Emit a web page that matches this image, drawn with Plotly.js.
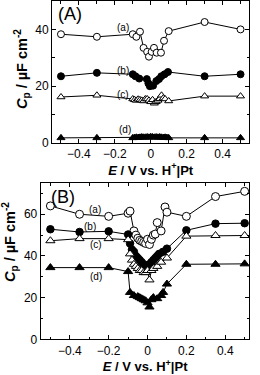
<!DOCTYPE html>
<html><head><meta charset="utf-8">
<script src="https://cdn.plot.ly/plotly-3.0.1.min.js"></script>
<style>html,body{margin:0;padding:0;background:#fff;}#chart{width:260px;height:375px;}</style>
</head><body><div id="chart"></div>
<script>
// Panel A data
const A_a_x = [-0.5,-0.3,-0.1,-0.08,-0.06,-0.04,-0.02,-0.01,0.005,0.018,0.033,0.057,0.074,0.1,0.3,0.5];
const A_a_y = [38.3,37.4,38.3,37.4,39.2,33.5,32.1,30.4,32.1,33.5,31.8,31.8,36.0,39.4,42.6,40.0];
const A_b_x = [-0.5,-0.3,-0.1,-0.085,-0.064,-0.022,-0.013,-0.005,0.013,0.031,0.046,0.059,0.077,0.096,0.3,0.5];
const A_b_y = [23.5,24.7,24.2,23.5,22.7,22.5,21.0,20.0,20.2,21.8,22.5,23.5,24.2,25.0,23.5,24.2];
const A_c_x = [-0.5,-0.3,-0.1,-0.09,-0.08,-0.07,-0.06,-0.05,-0.04,-0.03,-0.02,-0.01,0,0.01,0.02,0.03,0.04,0.05,0.06,0.07,0.08,0.1,0.3,0.5];
const A_c_y = [16.2,16.8,15.5,15.2,15.0,15.4,15.2,15.0,14.8,15.5,15.5,15.0,14.5,15.2,14.0,14.5,15.0,15.6,16.8,15.8,15.5,14.8,16.5,16.5];
const A_d_x = [-0.5,-0.3,-0.1,-0.09,-0.08,-0.07,-0.06,-0.05,-0.04,-0.03,-0.02,-0.01,0,0.01,0.02,0.03,0.04,0.05,0.06,0.07,0.08,0.09,0.1,0.3,0.5];
const A_d_y = [1.8,1.8,1.8,1.9,2.0,1.9,2.0,2.1,2.0,2.0,2.1,2.0,2.2,2.1,2.0,2.1,2.0,2.1,2.0,1.9,2.0,1.9,1.8,1.8,1.8];
// Panel B data
const B_a_x = [-0.5,-0.35,-0.2,-0.1,-0.09,-0.07,-0.06,-0.05,-0.04,-0.03,-0.02,-0.01,0,0.01,0.02,0.03,0.04,0.05,0.07,0.09,0.1,0.2,0.35,0.5];
const B_a_y = [64,60,59,60.5,61.5,52,50,48.5,47.5,47,46.5,46,48,45.5,48,50,50.5,56,52,63.5,61,59,68.5,71];
const B_b_x = [-0.5,-0.35,-0.2,-0.1,-0.09,-0.08,-0.07,-0.06,-0.05,-0.04,-0.03,-0.02,-0.01,0,0.01,0.02,0.03,0.04,0.05,0.06,0.08,0.1,0.2,0.35,0.5];
const B_b_y = [52.8,51.5,51.8,50.3,46,43,42,40,39,38,37,36,35,34,36,37,38,39,40,41,42,43.5,52.3,55.5,55.7];
const B_c_x = [-0.5,-0.35,-0.2,-0.1,-0.09,-0.08,-0.07,-0.06,-0.05,-0.04,-0.03,-0.02,-0.01,0,0.01,0.02,0.03,0.05,0.07,0.1,0.2,0.35,0.5];
const B_c_y = [47.3,48.3,48.3,47.8,41,38,36,35,34,33,33,32,32,33,28.5,33,34,35,37,39,49.5,49.8,49.8];
const B_d_x = [-0.5,-0.35,-0.2,-0.1,-0.09,-0.07,-0.05,-0.04,-0.03,-0.02,-0.01,0,0.01,0.02,0.03,0.05,0.07,0.08,0.1,0.2,0.35,0.5];
const B_d_y = [34.4,34.4,34.4,32.5,22.5,21,20.5,20,19.5,19,18.5,17.5,15.5,19,20,19.5,21,22.5,26.5,36,36,36.2];
// Labels
const seriesLabels = ['(a)','(b)','(c)','(d)'];
const A_lab_x = [-0.155,-0.155,-0.155,-0.145];
const A_lab_y = [40.5,25.7,17.2,4.6];
const B_lab_x = [-0.27,-0.295,-0.267,-0.267];
const B_lab_y = [62.4,54,45.3,30];

const FONT = 'Liberation Sans, Arial, sans-serif';
const YTITLE = '<b><i>C</i><sub>p</sub> / µF cm<sup>-2</sup></b>';
function tr(x,y,sym,fill,xa,ya,sz){
  return {x:x,y:y,xaxis:xa,yaxis:ya,mode:'lines+markers',type:'scatter',
    line:{color:'#000',width:1},
    marker:{symbol:sym,size:sz,color:fill,line:{color:'#000',width:1}},
    showlegend:false,hoverinfo:'skip'};
}
const data = [
  tr(A_a_x,A_a_y,'circle','#fff','x','y',7),
  tr(A_b_x,A_b_y,'circle','#000','x','y',7),
  tr(A_c_x,A_c_y,'triangle-up','#fff','x','y',7),
  tr(A_d_x,A_d_y,'triangle-up','#000','x','y',7),
  tr(B_a_x,B_a_y,'circle','#fff','x2','y2',8),
  tr(B_b_x,B_b_y,'circle','#000','x2','y2',7.5),
  tr(B_c_x,B_c_y,'triangle-up','#fff','x2','y2',8),
  tr(B_d_x,B_d_y,'triangle-up','#000','x2','y2',8)
];
function xax(dom,range,anchor){
  return {domain:dom,range:range,anchor:anchor,showline:true,mirror:'ticks',linecolor:'#000',linewidth:1,
    ticks:'inside',ticklen:4,tickwidth:1,tickcolor:'#000',dtick:0.2,tick0:0,zeroline:false,showgrid:false,
    tickfont:{family:FONT,size:12,color:'#000'},
    minor:{dtick:0.1,ticks:'inside',ticklen:2.5,tickcolor:'#000',showgrid:false},
    title:{text:'<b><i>E</i> / V vs. H<sup>+</sup>|Pt</b>',font:{family:FONT,size:13,color:'#000'},standoff:4}};
}
function yax(dom,range,anchor){
  return {domain:dom,range:range,anchor:anchor,showline:true,mirror:'ticks',linecolor:'#000',linewidth:1,
    ticks:'inside',ticklen:4,tickwidth:1,tickcolor:'#000',dtick:20,tick0:0,zeroline:false,showgrid:false,
    tickfont:{family:FONT,size:12,color:'#000'},
    minor:{dtick:10,ticks:'inside',ticklen:2.5,tickcolor:'#000',showgrid:false}};
}
const ann = [];
ann.push({xref:'x',yref:'y',x:-0.53,y:45.5,text:'(A)',showarrow:false,xanchor:'left',yanchor:'middle',font:{family:FONT,size:18,color:'#000'}});
ann.push({xref:'x2',yref:'y2',x:-0.505,y:68.5,text:'(B)',showarrow:false,xanchor:'left',yanchor:'middle',font:{family:FONT,size:18,color:'#000'}});
ann.push({xref:'paper',yref:'paper',x:22/260,y:1-69/375,text:YTITLE,textangle:-90,showarrow:false,xanchor:'center',yanchor:'middle',font:{family:FONT,size:14.5,color:'#000'}});
ann.push({xref:'paper',yref:'paper',x:10/260,y:1-242/375,text:YTITLE,textangle:-90,showarrow:false,xanchor:'center',yanchor:'middle',font:{family:FONT,size:14.5,color:'#000'}});
for(let i=0;i<4;i++){
  ann.push({xref:'x',yref:'y',x:A_lab_x[i],y:A_lab_y[i],text:seriesLabels[i],showarrow:false,font:{family:FONT,size:10,color:'#000'}});
  ann.push({xref:'x2',yref:'y2',x:B_lab_x[i],y:B_lab_y[i],text:seriesLabels[i],showarrow:false,font:{family:FONT,size:10,color:'#000'}});
}
const layout = {
  width:260,height:375,margin:{l:0,r:0,t:0,b:0},paper_bgcolor:'#fff',plot_bgcolor:'#fff',
  xaxis:xax([0.2,0.9596],[-0.55,0.55],'y'),
  yaxis:yax([0.6187,0.9973],[0,50],'x'),
  xaxis2:xax([0.1565,0.9596],[-0.55,0.525],'y2'),
  yaxis2:yax([0.0952,0.512],[0,75],'x2'),
  annotations:ann
};
Plotly.newPlot('chart',data,layout,{staticPlot:true,displayModeBar:false});
</script></body></html>
